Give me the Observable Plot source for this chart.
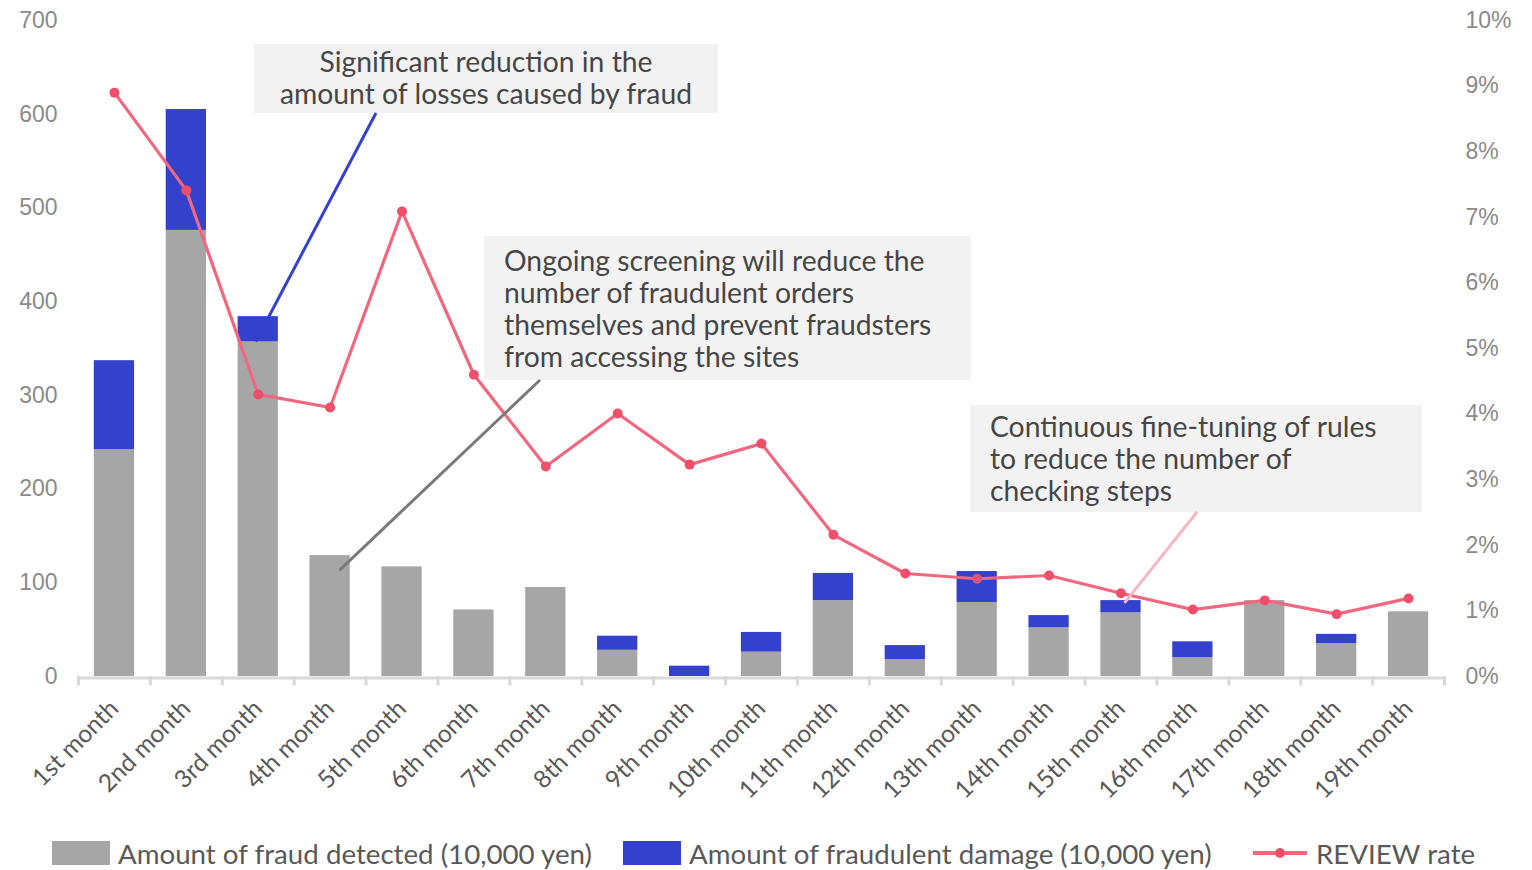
<!DOCTYPE html>
<html><head><meta charset="utf-8">
<script src="https://cdn.jsdelivr.net/npm/d3@7"></script>
<script src="https://cdn.jsdelivr.net/npm/@observablehq/plot@0.6"></script>
<style>
body{margin:0;background:#fff;font-family:Lato,sans-serif;}
#legend{position:relative;height:46px;width:1532px;}
.li{position:absolute;top:0;height:46px;display:flex;align-items:center;font-size:27.7px;color:#595959;white-space:nowrap;}
.sw{width:58px;height:24px;margin-right:8px;}
</style></head><body>
<div id="chart"></div>
<div id="legend"></div>
<script>
const months = ["1st month","2nd month","3rd month","4th month","5th month","6th month","7th month","8th month","9th month","10th month","11th month","12th month","13th month","14th month","15th month","16th month","17th month","18th month","19th month"];
const detected = [242,476,357,129,117,71,95,28,0,26,81,18,79,52,68,20,81,35,69];
const damage = [95,129,27,0,0,0,0,15,11,21,29,15,33,13,13,17,0,10,0];
const reviewRate = [8.9,7.41,4.30,4.10,7.09,4.60,3.20,4.01,3.23,3.55,2.16,1.57,1.49,1.54,1.27,1.02,1.16,0.95,1.19];
const leftTicks = [0,100,200,300,400,500,600,700];
const rightTicks = [0,1,2,3,4,5,6,7,8,9,10];
const seriesNames = ["Amount of fraud detected (10,000 yen)","Amount of fraudulent damage (10,000 yen)","REVIEW rate"];
const annotationTexts = [
  ["Significant reduction in the","amount of losses caused by fraud"],
  ["Ongoing screening will reduce the","number of fraudulent orders","themselves and prevent fraudsters","from accessing the sites"],
  ["Continuous fine-tuning of rules","to reduce the number of","checking steps"]
];

const colors = {gray:"#a6a6a6", blue:"#3341cc", line:"#f0677e", dot:"#ee4f6b"};
const LEFT_MAX = 700, RIGHT_MAX = 10, k = LEFT_MAX / RIGHT_MAX;

const barRows = [];
months.forEach((m,i)=>{
  barRows.push({month:m, series:seriesNames[0], value:detected[i]});
  barRows.push({month:m, series:seriesNames[1], value:damage[i]});
});
const lineRows = months.map((m,i)=>({month:m, rate:reviewRate[i]}));

const W = 1532, H = 830;
const marginLeft = 78, marginRight = 88;
const step = (W - marginLeft - marginRight) / months.length;
const chart = Plot.plot({
  width: W, height: H,
  marginLeft, marginRight, marginTop: 20, marginBottom: H - 676,
  style: {fontFamily: "Lato, sans-serif", background: "#fff"},
  x: {domain: months, paddingInner: 0.44, paddingOuter: 0.22, round: false},
  y: {domain: [0, LEFT_MAX]},
  color: {domain: seriesNames.slice(0,2), range: [colors.gray, colors.blue]},
  marks: [
    Plot.barY(barRows, {x:"month", y:"value", fill:"series"}),
    Plot.ruleY([0], {stroke:"#d9d9d9", strokeWidth:3, dy:1.5}),
    Plot.ruleX(months, {x: d=>d, y1: 0, y2: -10, dx: -step/2, stroke:"#d9d9d9", strokeWidth:3}),
    Plot.ruleX(months.slice(-1), {x: d=>d, y1: 0, y2: -10, dx: step/2, stroke:"#d9d9d9", strokeWidth:3}),
    Plot.axisY(leftTicks, {anchor:"left", tickSize:0, tickPadding:21, fontSize:23, fontFamily:"Liberation Sans, Arial, sans-serif", fill:"#8a8a8a", label:null}),
    Plot.axisY(rightTicks.map(t=>t*k), {anchor:"right", tickSize:0, tickPadding:21, textAnchor:"start", tickFormat: d=>`${Math.round(d/k)}%`, fontSize:23, fontFamily:"Liberation Sans, Arial, sans-serif", fill:"#8a8a8a", label:null}),
    Plot.axisX({tickSize:0, tickPadding:28, tickRotate:-45, fontSize:24.5, fill:"#595959", label:null}),
    Plot.line(lineRows, {x:"month", y: d=>d.rate*k, stroke: colors.line, strokeWidth:3.2}),
    Plot.dot(lineRows, {x:"month", y: d=>d.rate*k, fill: colors.dot, r:5})
  ]
});
document.getElementById("chart").appendChild(chart);

// annotations (layout in pixels, pointers anchored to data through the scales)
const xs = chart.scale("x"), ys = chart.scale("y");
const cx = m => xs.apply(m) + xs.bandwidth/2;
const svg = d3.select(chart);
const anns = [
  {text: annotationTexts[0], box:[254,44,718,113], align:"middle", tx:486, ty:62, from:[376,113], to:{m:months[2], v:detected[2], dx:-2}, stroke:colors.blue},
  {text: annotationTexts[1], box:[484,236,971,380], align:"start", tx:504, ty:261, from:[540,380], to:{m:months[3], v:113, dx:10}, stroke:"#7a7a7a"},
  {text: annotationTexts[2], box:[970,405,1422,512], align:"start", tx:990, ty:427, from:[1197,512], to:{m:months[14], v:78, dx:4}, stroke:"#f8b7c3"}
];
const g = svg.append("g");
anns.forEach(a=>{
  g.append("rect").attr("x",a.box[0]).attr("y",a.box[1]).attr("width",a.box[2]-a.box[0]).attr("height",a.box[3]-a.box[1]).attr("fill","#f2f2f2");
  a.text.forEach((t,i)=>{
    g.append("text").attr("x",a.tx).attr("y",a.ty+i*32).attr("dy","0.35em").attr("text-anchor",a.align)
     .attr("font-size",28.3).attr("fill","#464646").attr("font-family","Lato, sans-serif").text(t);
  });
  g.append("line").attr("x1",a.from[0]).attr("y1",a.from[1]).attr("x2",cx(a.to.m)+a.to.dx).attr("y2",ys.apply(a.to.v))
   .attr("stroke",a.stroke).attr("stroke-width",3);
});

// legend
const legend = document.getElementById("legend");
const items = [
  {left:52, html:`<div class="sw" style="background:${colors.gray}"></div>${seriesNames[0]}`},
  {left:623, html:`<div class="sw" style="background:${colors.blue}"></div>${seriesNames[1]}`},
  {left:1253, html:`<svg width="54" height="24" style="margin-right:9px"><line x1="0" x2="54" y1="12" y2="12" stroke="${colors.line}" stroke-width="4"/><circle cx="27" cy="12" r="5" fill="${colors.dot}"/></svg>${seriesNames[2]}`}
];
items.forEach(it=>{
  const d = document.createElement("div"); d.className="li"; d.style.left = it.left+"px"; d.innerHTML = it.html; legend.appendChild(d);
});
</script>
</body></html>
